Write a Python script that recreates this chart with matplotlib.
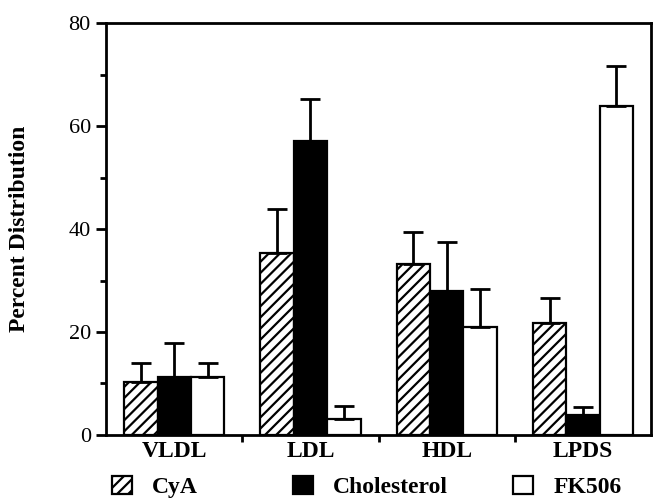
import numpy as np
import matplotlib
matplotlib.use('Agg')
import matplotlib.pyplot as plt
from matplotlib.ticker import MultipleLocator, FixedLocator

plt.rcParams['font.family'] = ['Liberation Serif', 'DejaVu Serif']
plt.rcParams['hatch.linewidth'] = 1.6

# data
categories = ['VLDL', 'LDL', 'HDL', 'LPDS']
series_names = ['CyA', 'Cholesterol', 'FK506']
cya = [10.3, 35.3, 33.2, 21.7]
cya_err = [3.7, 8.6, 6.2, 4.9]
chol = [11.3, 57.1, 28.0, 3.9]
chol_err = [6.6, 8.1, 9.5, 1.5]
fk506 = [11.3, 3.1, 21.0, 63.9]
fk506_err = [2.7, 2.5, 7.3, 7.8]
y_ticks = [0, 20, 40, 60, 80]

fig = plt.figure(figsize=(6.63, 5.04), dpi=100)
ax = fig.add_axes([0.160, 0.137, 0.822, 0.817])

x = np.arange(1, len(categories) + 1)
width = 0.245
styles = [dict(color='white', edgecolor='black', hatch='///'),
          dict(color='black', edgecolor='black'),
          dict(color='white', edgecolor='black')]
values = [cya, chol, fk506]
errors = [cya_err, chol_err, fk506_err]

handles = []
for i, (vals, errs, st) in enumerate(zip(values, errors, styles)):
    pos = x + (i - 1) * width
    err = [np.zeros(len(errs)), np.array(errs)]
    b = ax.bar(pos, vals, width, yerr=err, linewidth=1.6, label=series_names[i],
               error_kw=dict(ecolor='black', elinewidth=2, capsize=7, capthick=2),
               zorder=2, **st)
    handles.append(b)

ax.set_xlim(0.5, len(categories) + 0.5)
ax.set_ylim(0, 80)
ax.set_yticks(y_ticks)
ax.yaxis.set_minor_locator(MultipleLocator(10))
ax.set_xticks(x)
ax.set_xticklabels(categories, fontsize=17, fontweight='bold')
ax.xaxis.set_minor_locator(FixedLocator([1.5, 2.5, 3.5]))
ax.tick_params(axis='x', which='major', length=0, pad=4)
ax.tick_params(axis='x', which='minor', length=5, width=2, direction='out')
ax.tick_params(axis='y', which='major', length=7, width=2, labelsize=16, pad=4)
ax.tick_params(axis='y', which='minor', length=4, width=2)
for sp in ax.spines.values():
    sp.set_linewidth(2)

ax.set_ylabel('Percent Distribution', fontsize=17, fontweight='bold', labelpad=28)

# legend entries spread along the bottom
legend_x = [0.169, 0.442, 0.774]
for h, lx in zip(handles, legend_x):
    lg = fig.legend([h.patches[0]], [h.get_label()], loc='center left',
                    bbox_to_anchor=(lx, 0.034), frameon=False,
                    handlelength=0.85, handleheight=0.85, handletextpad=0.85,
                    borderpad=0, borderaxespad=0,
                    prop=dict(family='Liberation Serif', weight='bold', size=17))

fig.savefig('out.png', dpi=100)
